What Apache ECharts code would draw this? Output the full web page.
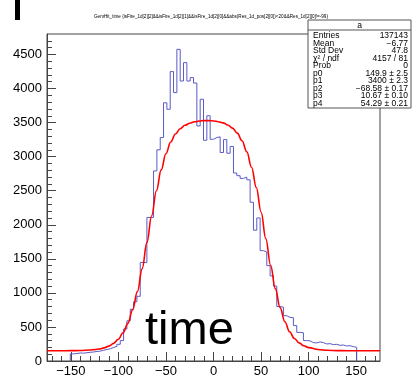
<!DOCTYPE html>
<html>
<head>
<meta charset="utf-8">
<script src="https://cdn.jsdelivr.net/npm/echarts@6/dist/echarts.min.js"></script>
<style>
html,body{margin:0;padding:0;background:#fff;}
#c{width:412px;height:379px;}
</style>
</head>
<body>
<div id="c"></div>
<script>
// ---- data ----
const titleText = "GemHit_time {isFire_1d[2][2]&&isFire_1d[2][1]&&isFire_1d[2][0]&&abs(Res_1d_pos[2][0])<20&&Res_1d[2][0]!=-99}";
const histLow = -150.5;      // low edge of first filled bin
const binWidth = 3.5;
const counts = [
  105,110,118,115,122,128,132,140,145,158,
  168,180,198,215,245,300,470,590,760,870,
  950,1447,1447,2107,2107,2790,3100,3280,3790,3695,
  4248,3940,4575,4110,4380,4110,4160,4080,3450,3842,
  3240,3600,3255,3280,3290,3060,3250,3050,3150,2760,
  2720,2680,2700,2660,2330,1920,2100,1620,1600,1400,
  1250,1100,800,790,665,640,635,520,420,415,
  300,295,270,265,280,270,250,255,240,245,
  230,235,220,225,210,200
];
const fitX = [-175,-160,-150,-140,-130,-125,-120,-115,-110,-105,-100,-95,-90,-85,-80,-75,-70,-65,-60,-55,-50,-45,-40,-35,-30,-25,-20,-15,-10,-5,0,5,10,15,20,25,30,35,40,45,50,55,60,65,70,75,80,85,90,95,100,110,120,130,140,150,160,175];
const fitY = [150,150,152,154,161,167,177,193,219,258,320,414,553,751,1018,1353,1737,2133,2499,2806,3043,3214,3332,3409,3460,3490,3511,3523,3528,3528,3524,3513,3495,3465,3418,3345,3233,3071,2844,2547,2187,1794,1406,1062,784,577,430,331,266,223,196,168,157,153,151,150,150,150];
const xTickLabels = [-150,-100,-50,0,50,100,150];
const xMinorTicks = [-170,-160,-150,-140,-130,-120,-110,-100,-90,-80,-70,-60,-50,-40,-30,-20,-10,0,10,20,30,40,50,60,70,80,90,100,110,120,130,140,150,160,170];
const yTickLabels = [0,500,1000,1500,2000,2500,3000,3500,4000,4500];
const yMinorTicks = [0,100,200,300,400,500,600,700,800,900,1000,1100,1200,1300,1400,1500,1600,1700,1800,1900,2000,2100,2200,2300,2400,2500,2600,2700,2800,2900,3000,3100,3200,3300,3400,3500,3600,3700,3800,3900,4000,4100,4200,4300,4400,4500,4600,4700];
const statTitle = "a";
const statNames = ["Entries","Mean","Std Dev","\u03c7\u00b2 / ndf","Prob","p0","p1","p2","p3","p4"];
const statValues = ["137143","\u22126.77","47.8","4157 / 81","0","149.9 \u00b1 2.5","3400 \u00b1 2.3","\u221268.58 \u00b1 0.17","10.67 \u00b1 0.10","54.29 \u00b1 0.21"];
const bigLabel = "time";

// ---- build histogram outline from bins ----
const histPts = [];
histPts.push([histLow, 0]);
for (let i = 0; i < counts.length; i++) {
  const lo = histLow + i * binWidth, hi = lo + binWidth;
  histPts.push([lo, counts[i]]);
  histPts.push([hi, counts[i]]);
}
histPts.push([histLow + counts.length * binWidth, 0]);
const fitPts = fitX.map((x, i) => [x, fitY[i]]);

const FONT = "Liberation Sans";
const AX = '#444';
const chart = echarts.init(document.getElementById('c'), null, {renderer: 'canvas'});

const statGraphics = [];
const bx = 308, by = 20, bw = 103, rowH = 7.5;
statGraphics.push({type:'rect', shape:{x:bx, y:by, width:bw, height:88}, style:{fill:'#fff', stroke:'#555', lineWidth:1}, z:100});
statGraphics.push({type:'line', shape:{x1:bx, y1:30, x2:bx+bw, y2:30}, style:{stroke:'#555', lineWidth:1}, z:101});
statGraphics.push({type:'text', x: bx + bw/2, y: 25.5, style:{text: statTitle, fontFamily: FONT, fontSize: 8.5, fill:'#000', align:'center', verticalAlign:'middle'}, z:102});
statNames.forEach((n, i) => {
  const yy = 36 + i * rowH;
  statGraphics.push({type:'text', x: 313, y: yy, style:{text:n, fontFamily: FONT, fontSize: 8.5, fill:'#000', align:'left', verticalAlign:'middle'}, z:102});
  statGraphics.push({type:'text', x: 408, y: yy, style:{text:statValues[i], fontFamily: FONT, fontSize: 8.5, fill:'#000', align:'right', verticalAlign:'middle'}, z:102});
});

chart.setOption({
  animation: false,
  backgroundColor: '#fff',
  grid: {left: 47, right: 32, top: 34, bottom: 18, show: true, borderColor: AX, borderWidth: 1, backgroundColor: 'transparent'},
  xAxis: [
    {type:'value', min:-175, max:175, position:'bottom',
     axisLine:{show:true, onZero:false, lineStyle:{color:AX}},
     axisTick:{show:true, inside:true, length:9, customValues: xTickLabels, lineStyle:{color:AX}},
     axisLabel:{show:true, customValues: xTickLabels, fontFamily:FONT, fontSize:13, color:'#000', margin:4,
       formatter: v => (v < 0 ? '\u2212' + Math.abs(v) : String(v))},
     splitLine:{show:false}},
    {type:'value', min:-175, max:175, position:'bottom',
     axisLine:{show:false, onZero:false},
     axisTick:{show:true, inside:true, length:5, customValues: xMinorTicks, lineStyle:{color:AX}},
     axisLabel:{show:false}, splitLine:{show:false}}
  ],
  yAxis: [
    {type:'value', min:0, max:4800, position:'left',
     axisLine:{show:true, onZero:false, lineStyle:{color:AX}},
     axisTick:{show:true, inside:true, length:9, customValues: yTickLabels, lineStyle:{color:AX}},
     axisLabel:{show:true, customValues: yTickLabels, fontFamily:FONT, fontSize:13, color:'#000', margin:5,
       formatter: v => String(v)},
     splitLine:{show:false}},
    {type:'value', min:0, max:4800, position:'left',
     axisLine:{show:false, onZero:false},
     axisTick:{show:true, inside:true, length:5, customValues: yMinorTicks, lineStyle:{color:AX}},
     axisLabel:{show:false}, splitLine:{show:false}}
  ],
  series: [
    {type:'line', data: histPts, xAxisIndex:0, yAxisIndex:0, showSymbol:false, symbol:'none',
     lineStyle:{color:'#5a5ac8', width:1}, z:3, clip:true},
    {type:'line', data: fitPts, xAxisIndex:0, yAxisIndex:0, showSymbol:false, symbol:'none', smooth:0.4, smoothMonotone:'x',
     lineStyle:{color:'#ff0000', width:1.6}, z:4, clip:true}
  ],
  graphic: [
    {type:'text', x: 211, y: 17, style:{text: titleText, fontFamily: FONT, fontSize: 4.6, fill:'#000', align:'center', verticalAlign:'middle'}, z:50},
    {type:'rect', shape:{x:15, y:0, width:5, height:20}, style:{fill:'#000'}, z:50},
    {type:'text', x: 145, y: 308, style:{text: bigLabel, fontFamily: FONT, fontSize: 47, fill:'#000', align:'left', verticalAlign:'alphabetic'}, z:60}
  ].concat(statGraphics)
});
</script>
</body>
</html>
